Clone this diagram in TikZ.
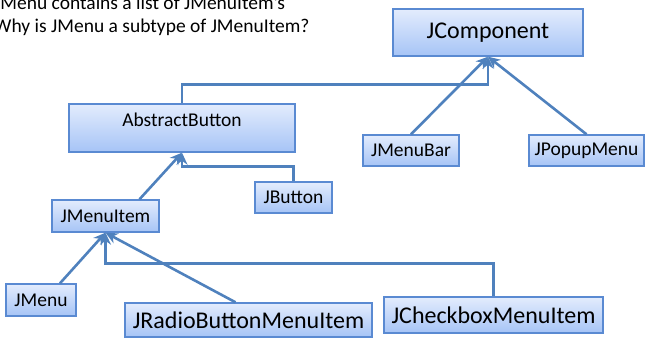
\documentclass[tikz,border=0pt]{standalone}
\usepackage{fontspec,xcolor}
\setmainfont{Carlito}
\usetikzlibrary{arrows.meta}
\definecolor{edge}{HTML}{4F81BD}
\definecolor{frame}{HTML}{5A8AD2}
\definecolor{shadetop}{HTML}{E3ECFD}
\definecolor{shadebot}{HTML}{A6C4F6}

\tikzset{
  cls/.style={draw=frame,line width=1.4pt,top color=shadetop,bottom color=shadebot,
    inner sep=0pt,font=\fontsize{19.5}{23}\selectfont},
  bigcls/.style={cls,font=\fontsize{24}{28}\selectfont},
  isa/.style={draw=edge,line width=2.6pt,-{Stealth[length=12pt,width=11pt]}},
  note/.style={anchor=base west,inner sep=0pt,font=\fontsize{19.5}{23}\selectfont}
}

\begin{document}
\begin{tikzpicture}[x=1pt,y=-1pt]
\useasboundingbox (0,0) rectangle (647,339);
\clip (0,0) rectangle (647,339);
\node[note] (note1) at (-6,10) {JMenu contains a list of JMenuItem's};
\node[note] (note2) at (-6,33) {Why is JMenu a subtype of JMenuItem?};

\node[bigcls,minimum width=190pt,minimum height=47pt] (comp) at (488,32.5) {JComponent};
\node[cls,minimum width=226pt,minimum height=48pt,text depth=16pt] (abs) at (182,128) {AbstractButton};
\node[cls,minimum width=96pt,minimum height=31pt] (menubar) at (411,150.5) {JMenuBar};
\node[cls,minimum width=115pt,minimum height=31pt] (popup) at (586.5,150.5) {JPopupMenu};
\node[cls,minimum width=77pt,minimum height=31pt] (button) at (293.5,197.5) {JButton};
\node[cls,minimum width=107pt,minimum height=32pt] (item) at (105.5,216) {JMenuItem};
\node[cls,minimum width=70pt,minimum height=32pt] (menu) at (41,300) {JMenu};
\node[bigcls,minimum width=247pt,minimum height=34pt] (radio) at (248.5,320) {JRadioButtonMenuItem};
\node[bigcls,minimum width=219pt,minimum height=36pt] (check) at (493.5,315) {JCheckboxMenuItem};

\draw[isa] (abs.north) -- ++(0,-19) -| (comp.south);
\draw[isa] (menubar.north) -- (comp.south);
\draw[isa] (popup.north) -- (comp.south);
\draw[isa] (button.north) -- ++(0,-15) -| (abs.south);
\draw[isa] ([xshift=34pt]item.north) -- (abs.south);
\draw[isa] ([xshift=19pt]menu.north) -- (item.south);
\draw[isa] ([xshift=-13pt]radio.north) -- (item.south);
\draw[isa] (check.north) -- ++(0,-33) -| (item.south);
\end{tikzpicture}
\end{document}
